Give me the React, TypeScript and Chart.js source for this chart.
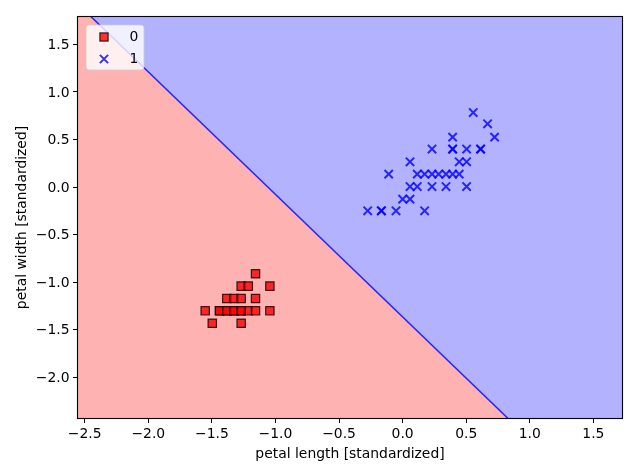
import React, { useEffect, useRef } from 'react';
import { Chart, registerables } from 'chart.js';

Chart.register(...registerables);

// ---- data ----
const seriesLabels = ['0', '1'];

const class0X = [
  -1.157,
  -1.27, -1.214, -1.044,
  -1.383, -1.327, -1.27, -1.157,
  -1.553, -1.44, -1.383, -1.327, -1.27, -1.214, -1.157, -1.044,
  -1.497, -1.27,
  -1.44, -1.383, -1.327, -1.27,
];
const class0Y = [
  -0.91,
  -1.04, -1.04, -1.04,
  -1.17, -1.17, -1.17, -1.17,
  -1.3, -1.3, -1.3, -1.3, -1.3, -1.3, -1.3, -1.3,
  -1.43, -1.43,
  -1.3, -1.3, -1.3, -1.3,
];

const class1X = [
  0.555,
  0.668,
  0.723, 0.393,
  0.231, 0.393, 0.393, 0.503, 0.613, 0.613,
  0.058, 0.445, 0.503,
  -0.11, 0.115, 0.173, 0.231, 0.283, 0.341, 0.393, 0.445,
  0.058, 0.115, 0.231, 0.341, 0.503,
  0.0, 0.058,
  -0.275, -0.167, -0.167, -0.052, 0.173,
];
const class1Y = [
  0.784,
  0.666,
  0.526, 0.526,
  0.4, 0.4, 0.4, 0.4, 0.4, 0.4,
  0.266, 0.266, 0.266,
  0.137, 0.137, 0.137, 0.137, 0.137, 0.137, 0.137, 0.137,
  0.006, 0.006, 0.006, 0.006, 0.006,
  -0.126, -0.126,
  -0.249, -0.249, -0.249, -0.249, -0.249,
];

// decision boundary (end points of the separating line, in data units)
const boundaryX = [-2.553, 1.725];
const boundaryY = [1.923, -3.585];

const xRange = [-2.553, 1.725];
const yRange = [-2.426, 1.788];
const xTicks = [-2.5, -2.0, -1.5, -1.0, -0.5, 0.0, 0.5, 1.0, 1.5];
const yTicks = [-2.0, -1.5, -1.0, -0.5, 0.0, 0.5, 1.0, 1.5];
const xTitle = 'petal length [standardized]';
const yTitle = 'petal width [standardized]';

// ---- styles ----
const FONT = 'DejaVu Sans';
const FS = 13.9;
const RED_REGION = '#ffb2b2';
const BLUE_REGION = '#b2b2ff';
const RED_MARK = 'rgba(255,0,0,0.8)';
const BLUE_MARK = 'rgba(0,0,255,0.8)';

const fmt = (v: number) => {
  const s = Math.abs(v).toFixed(1);
  return v < 0 ? '\u2212' + s : s;
};

const zip = (xs: number[], ys: number[]) => xs.map((x, i) => ({ x, y: ys[i] }));

const framePlugin = {
  id: 'mplFrame',
  afterDatasetsDraw(chart: any) {
    const { ctx, chartArea } = chart;
    const { left, right, top, bottom } = chartArea;
    ctx.save();
    ctx.strokeStyle = '#000';
    ctx.lineWidth = 1.1;
    ctx.strokeRect(left - 0.5, top - 0.5, right - left + 1, bottom - top + 1);
    ctx.restore();
  },
};

const legendPlugin = {
  id: 'mplLegend',
  afterDraw(chart: any) {
    const { ctx, chartArea } = chart;
    const bx = chartArea.left + 8;
    const by = chartArea.top + 8;
    const bw = 58;
    const bh = 45;
    const r = 3;
    ctx.save();
    ctx.beginPath();
    ctx.moveTo(bx + r, by);
    ctx.lineTo(bx + bw - r, by);
    ctx.quadraticCurveTo(bx + bw, by, bx + bw, by + r);
    ctx.lineTo(bx + bw, by + bh - r);
    ctx.quadraticCurveTo(bx + bw, by + bh, bx + bw - r, by + bh);
    ctx.lineTo(bx + r, by + bh);
    ctx.quadraticCurveTo(bx, by + bh, bx, by + bh - r);
    ctx.lineTo(bx, by + r);
    ctx.quadraticCurveTo(bx, by, bx + r, by);
    ctx.closePath();
    ctx.fillStyle = 'rgba(255,255,255,0.8)';
    ctx.fill();
    ctx.strokeStyle = 'rgba(204,204,204,0.8)';
    ctx.lineWidth = 1;
    ctx.stroke();

    const mx = bx + 18;
    const y0 = by + 12;
    const y1 = by + 34;
    const h = 4.1;
    // square marker
    ctx.fillStyle = RED_MARK;
    ctx.fillRect(mx - h, y0 - h, 2 * h, 2 * h);
    ctx.strokeStyle = 'rgba(0,0,0,0.8)';
    ctx.lineWidth = 1.2;
    ctx.strokeRect(mx - h, y0 - h, 2 * h, 2 * h);
    // x marker
    ctx.strokeStyle = BLUE_MARK;
    ctx.lineWidth = 2;
    ctx.beginPath();
    ctx.moveTo(mx - h, y1 - h);
    ctx.lineTo(mx + h, y1 + h);
    ctx.moveTo(mx - h, y1 + h);
    ctx.lineTo(mx + h, y1 - h);
    ctx.stroke();

    ctx.fillStyle = '#000';
    ctx.font = `${FS}px "${FONT}"`;
    ctx.textAlign = 'left';
    ctx.textBaseline = 'middle';
    ctx.fillText(seriesLabels[0], bx + 43.6, y0 + 0.5);
    ctx.fillText(seriesLabels[1], bx + 43.6, y1 + 0.5);
    ctx.restore();
  },
};

export default function App() {
  const ref = useRef<HTMLCanvasElement | null>(null);

  useEffect(() => {
    document.body.style.margin = '0';
    const canvas = ref.current;
    if (!canvas) return;
    Chart.defaults.font.family = FONT;
    Chart.defaults.font.size = FS;
    Chart.defaults.color = '#000';

    const chart = new Chart(canvas, {
      type: 'scatter',
      data: {
        datasets: [
          {
            label: seriesLabels[0],
            data: zip(class0X, class0Y),
            pointStyle: 'rect',
            pointRadius: 5.9,
            backgroundColor: RED_MARK,
            borderColor: 'rgba(0,0,0,0.8)',
            borderWidth: 1.2,
          } as any,
          {
            label: seriesLabels[1],
            data: zip(class1X, class1Y),
            pointStyle: 'crossRot',
            pointRadius: 5.9,
            backgroundColor: BLUE_MARK,
            borderColor: BLUE_MARK,
            borderWidth: 2,
          } as any,
          {
            type: 'line',
            label: 'boundary',
            data: zip(boundaryX, boundaryY),
            borderColor: 'rgba(20,20,255,0.9)',
            borderWidth: 1.5,
            pointRadius: 0,
            fill: false,
            clip: 0,
          } as any,
          {
            type: 'line',
            label: 'region 0',
            data: zip(boundaryX, boundaryY),
            borderWidth: 0,
            borderColor: 'rgba(0,0,0,0)',
            backgroundColor: RED_REGION,
            pointRadius: 0,
            fill: 'start',
            clip: 0,
          } as any,
          {
            type: 'line',
            label: 'region 1',
            data: zip(boundaryX, boundaryY),
            borderWidth: 0,
            borderColor: 'rgba(0,0,0,0)',
            backgroundColor: BLUE_REGION,
            pointRadius: 0,
            fill: 'end',
            clip: 0,
          } as any,
        ],
      },
      options: {
        responsive: false,
        animation: false,
        devicePixelRatio: 1,
        events: [],
        layout: { padding: { left: 0, right: 18, top: 17, bottom: 0 } },
        plugins: {
          legend: { display: false },
          tooltip: { enabled: false },
        },
        scales: {
          x: {
            type: 'linear',
            min: xRange[0],
            max: xRange[1],
            afterBuildTicks: (scale: any) => {
              scale.ticks = xTicks.map((v) => ({ value: v }));
            },
            afterFit: (scale: any) => {
              scale.height = 58;
            },
            ticks: {
              callback: (v: any) => fmt(Number(v)),
              padding: 3.5,
              maxRotation: 0,
              autoSkip: false,
              color: '#000',
              font: { family: FONT, size: FS },
            },
            grid: {
              drawOnChartArea: false,
              drawTicks: true,
              tickLength: 5,
              tickColor: '#000',
              tickWidth: 1,
            },
            border: { display: false },
            title: {
              display: true,
              text: xTitle,
              color: '#000',
              font: { family: FONT, size: FS },
              padding: { top: 0, bottom: 13.7 },
            },
          },
          y: {
            type: 'linear',
            min: yRange[0],
            max: yRange[1],
            afterBuildTicks: (scale: any) => {
              scale.ticks = yTicks.map((v) => ({ value: v }));
            },
            afterFit: (scale: any) => {
              scale.width = 78;
            },
            ticks: {
              callback: (v: any) => fmt(Number(v)),
              padding: 3.5,
              labelOffset: 1,
              autoSkip: false,
              color: '#000',
              font: { family: FONT, size: FS },
            },
            grid: {
              drawOnChartArea: false,
              drawTicks: true,
              tickLength: 5,
              tickColor: '#000',
              tickWidth: 1,
            },
            border: { display: false },
            title: {
              display: true,
              text: yTitle,
              color: '#000',
              font: { family: FONT, size: FS },
              padding: { top: 14.2, bottom: 0 },
            },
          },
        },
      },
      plugins: [framePlugin, legendPlugin],
    } as any);

    return () => {
      chart.destroy();
    };
  }, []);

  return (
    <div style={{ width: 640, height: 476, position: 'relative', background: '#fff' }}>
      <canvas ref={ref} width={640} height={476} style={{ display: 'block' }} />
    </div>
  );
}
